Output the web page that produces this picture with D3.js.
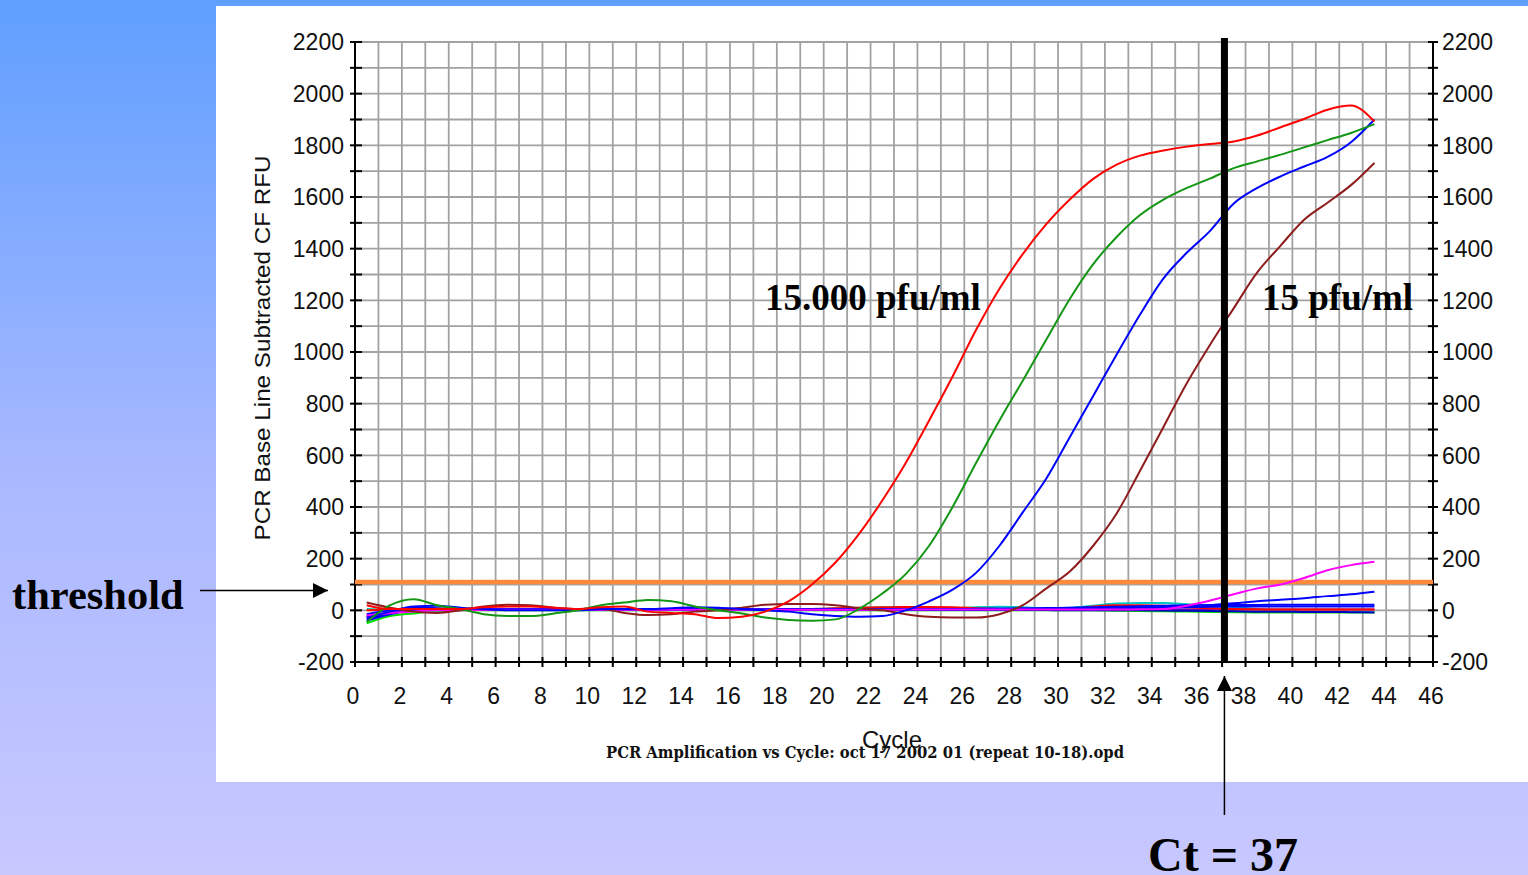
<!DOCTYPE html>
<html><head><meta charset="utf-8">
<script src="https://cdn.jsdelivr.net/npm/d3@7"></script>
<style>html,body{margin:0;padding:0;overflow:hidden;background:#fff}svg{display:block}</style>
</head><body>
<svg id="chart" width="1528" height="875"></svg>
<script>
// ---------- data ----------
const cycles = [1,2,3,4,5,6,7,8,9,10,11,12,13,14,15,16,17,18,19,20,21,22,23,24,25,26,27,28,29,30,31,32,33,34,35,36,37,38,39,40,41,42,43,44];
const xTickLabels = [0,2,4,6,8,10,12,14,16,18,20,22,24,26,28,30,32,34,36,38,40,42,44,46];
const yTickLabels = [-200,0,200,400,600,800,1000,1200,1400,1600,1800,2000,2200];
const thresholdRFU = 110;
const ctCycle = 37.1;

const red = [20,5,5,5,5,12,15,15,10,5, 12,15,-5,-10,-15,-30,-25,-5,35,100, 185,295,425,570,735,905,1085,1245,1380,1495, 1590,1670,1725,1760,1780,1795,1805,1815,1838,1870, 1902,1938,1954,1892];
const green = [-45,20,43,20,5,-15,-22,-22,-12,0, 20,30,40,35,15,0,-12,-28,-37,-40, -35,5,65,140,250,400,570,735,890,1048, 1205,1340,1445,1530,1590,1635,1672,1712,1738,1764, 1792,1820,1848,1882];
const blue = [-30,-5,15,18,10,5,0,0,0,0, 5,5,5,8,12,10,5,0,-5,-15, -22,-25,-22,0,35,80,145,250,380,510, 670,830,990,1145,1285,1385,1470,1575,1635,1680, 1718,1755,1812,1900];
const brown = [30,10,-5,-10,0,15,22,20,10,5, 5,-10,-18,-15,-5,0,10,22,25,25, 20,8,0,-15,-25,-28,-28,-15,20,85, 150,250,375,540,710,880,1030,1170,1308,1412, 1512,1578,1646,1732];
const magenta = [-20,-10,-5,0,0,2,2,2,2,2, 2,2,2,2,2,2,2,2,2,2, 2,2,2,3,3,3,3,3,3,3, 3,3,3,4,5,18,38,62,85,100, 125,155,175,188];
const blue2 = [-15,0,10,8,5,3,3,3,3,3, 3,3,3,3,3,3,3,3,3,3, 3,3,3,3,3,3,3,3,4,5, 5,6,8,10,12,15,20,27,35,41, 47,55,62,72];
const blue3 = [-40,-15,0,5,5,5,5,5,5,5, 5,5,5,5,5,5,5,5,5,5, 5,5,5,5,5,5,6,7,8,9, 10,12,14,16,18,20,20,21,21,22, 22,22,22,22];
const blue4 = [-25,-8,2,3,3,3,3,3,3,3, 3,3,3,3,3,3,3,3,3,3, 3,3,3,3,3,3,3,3,4,4, 5,6,7,8,10,12,14,15,15,15, 15,15,15,15];
const navy = [-35,-12,0,2,2,2,2,2,2,2, 2,2,2,2,2,2,2,2,2,2, 2,2,2,2,2,2,2,2,2,1, 0,0,0,0,-1,-2,-3,-4,-5,-5, -6,-6,-7,-8];
const cyan = [5,2,0,0,2,2,2,2,2,2, 2,2,2,2,2,2,2,2,3,5, 8,10,12,12,10,8,12,14,12,8, 10,18,26,28,28,24,20,12,5,0, -3,-4,-5,-5];
const lime = [-50,-22,-12,-3,0,0,0,0,0,0, 0,0,0,0,0,0,0,0,0,0, 0,0,0,0,0,0,0,0,0,0, 0,0,-2,-3,-4,-5,-6,-7,-8,-8, -8,-8,-8,-8];
const purple = [-25,-8,0,2,2,2,2,2,2,2, 2,2,2,2,2,2,2,2,2,2, 2,2,2,2,2,2,2,2,2,2, 2,2,3,3,3,3,3,3,3,3, 3,3,3,3];
const yellow = [0,4,8,8,4,2,2,2,2,2, 2,2,2,2,2,2,2,2,2,2, 2,2,2,2,2,2,2,2,2,2, 2,2,2,2,2,2,2,2,2,2, 2,2,2,2];
const red2 = [0,2,3,3,3,3,3,3,3,3, 3,3,3,3,3,3,3,3,3,5, 8,10,12,13,13,12,8,5,3,3, 5,15,20,20,18,12,8,5,4,3, 3,3,3,3];

const series = [
  {name:"lime", color:"#00e000", values:lime},
  {name:"cyan", color:"#00c4c4", values:cyan},
  {name:"yellow", color:"#e8c800", values:yellow},
  {name:"purple", color:"#7a00c8", values:purple},
  {name:"red2", color:"#ff0000", values:red2},
  {name:"navy", color:"#0000c0", values:navy},
  {name:"blue4", color:"#0000ff", values:blue4},
  {name:"blue3", color:"#0000ff", values:blue3},
  {name:"blue2", color:"#0000ff", values:blue2},
  {name:"magenta", color:"#ff00ff", values:magenta},
  {name:"brown", color:"#8e1c1c", values:brown},
  {name:"blue", color:"#0000ff", values:blue},
  {name:"green", color:"#139613", values:green},
  {name:"red", color:"#ff0000", values:red}
];

// ---------- layout ----------
const svg = d3.select("#chart");
const W = 1528, H = 875;
const x = d3.scaleLinear().domain([0,46]).range([355,1433]);
const y = d3.scaleLinear().domain([-200,2200]).range([662,42]);
const plotOffset = 0.5; // instrument plots each reading half a cycle early

const defs = svg.append("defs");
const grad = defs.append("linearGradient").attr("id","bg").attr("x1",0).attr("y1",0).attr("x2",0).attr("y2",1);
grad.append("stop").attr("offset","0%").attr("stop-color","#5f9fff");
grad.append("stop").attr("offset","55%").attr("stop-color","#aab9ff");
grad.append("stop").attr("offset","100%").attr("stop-color","#c8c8ff");
svg.append("rect").attr("width",W).attr("height",H).attr("fill","url(#bg)");
svg.append("rect").attr("x",216).attr("y",6).attr("width",W-216).attr("height",776).attr("fill","#fff");

const [x0,x1] = x.range();
const [yb,yt] = y.range();

// grid
const grid = svg.append("g").attr("stroke","#a2a2a2").attr("stroke-width",1.8);
grid.selectAll("line.v").data(d3.range(1,46)).join("line")
  .attr("x1",d=>x(d)).attr("x2",d=>x(d)).attr("y1",yt).attr("y2",yb);
grid.selectAll("line.h").data(d3.range(-100,2201,100)).join("line")
  .attr("x1",x0).attr("x2",x1).attr("y1",d=>y(d)).attr("y2",d=>y(d));

// axes
const axisG = svg.append("g").attr("stroke","#000").attr("stroke-width",2);
axisG.append("line").attr("x1",x0).attr("x2",x0).attr("y1",yt-1).attr("y2",yb);
axisG.append("line").attr("x1",x1).attr("x2",x1).attr("y1",yt-1).attr("y2",yb);
axisG.append("line").attr("x1",x0).attr("x2",x1).attr("y1",yb).attr("y2",yb);
const yMinor = d3.range(-200,2201,100);
axisG.selectAll("line.lt").data(yMinor).join("line").attr("x1",x0-5).attr("x2",x0+7).attr("y1",d=>y(d)).attr("y2",d=>y(d));
axisG.selectAll("line.rt").data(yMinor).join("line").attr("x1",x1-5).attr("x2",x1+5).attr("y1",d=>y(d)).attr("y2",d=>y(d));
axisG.selectAll("line.bt").data(d3.range(0,47)).join("line").attr("x1",d=>x(d)).attr("x2",d=>x(d)).attr("y1",yb-5).attr("y2",yb+5);

const lab = svg.append("g").attr("font-family","Liberation Sans, Arial, sans-serif").attr("font-size",23).attr("fill","#111");
lab.selectAll("text.yl").data(yTickLabels).join("text").attr("x",x0-11).attr("y",d=>y(d)).attr("dy","0.36em").attr("text-anchor","end").text(d=>String(d));
lab.selectAll("text.yr").data(yTickLabels).join("text").attr("x",x1+9).attr("y",d=>y(d)).attr("dy","0.36em").attr("text-anchor","start").text(d=>String(d));
lab.selectAll("text.xl").data(xTickLabels).join("text").attr("x",d=>x(d)-2).attr("y",yb+42).attr("text-anchor","middle").text(d=>String(d));

lab.append("text").attr("transform","translate(270,348) rotate(-90)").attr("text-anchor","middle")
  .attr("font-size",22).attr("textLength",385).attr("lengthAdjust","spacingAndGlyphs").text("PCR Base Line Subtracted CF RFU");
lab.append("text").attr("x",892).attr("y",748).attr("text-anchor","middle").attr("font-size",24).text("Cycle");
svg.append("text").attr("x",865).attr("y",758).attr("text-anchor","middle").attr("font-family","DejaVu Serif, serif")
  .attr("font-size",16).attr("font-weight","bold").attr("fill","#111").attr("textLength",518).attr("lengthAdjust","spacingAndGlyphs")
  .text("PCR Amplification vs Cycle: oct 17 2002 01 (repeat 10-18).opd");

// threshold
svg.append("line").attr("x1",x0).attr("x2",x1).attr("y1",y(thresholdRFU)).attr("y2",y(thresholdRFU))
  .attr("stroke","#ff8a3d").attr("stroke-width",4.5);

// curves
const line = d3.line().x((d,i)=>x(cycles[i]-plotOffset)).y(d=>y(d)).curve(d3.curveMonotoneX);
svg.append("g").attr("fill","none").attr("stroke-width",2)
  .selectAll("path").data(series).join("path")
  .attr("stroke",d=>d.color).attr("d",d=>line(d.values));

// Ct line
svg.append("line").attr("x1",x(ctCycle)).attr("x2",x(ctCycle)).attr("y1",yt-4).attr("y2",yb)
  .attr("stroke","#000").attr("stroke-width",7);

// annotations
const ann = svg.append("g").attr("font-family","Liberation Serif, Times New Roman, serif").attr("font-weight","bold").attr("fill","#000");
ann.append("text").attr("x",765).attr("y",310).attr("font-size",37).text("15.000 pfu/ml");
ann.append("text").attr("x",1262).attr("y",310).attr("font-size",37).text("15 pfu/ml");
ann.append("text").attr("x",12).attr("y",609).attr("font-size",42.5).text("threshold");
ann.append("text").attr("x",1148).attr("y",871).attr("font-size",48).text("Ct = 37");

defs.append("marker").attr("id","arr").attr("viewBox","0 0 10 10").attr("refX",10).attr("refY",5)
  .attr("markerWidth",15).attr("markerHeight",15).attr("markerUnits","userSpaceOnUse").attr("orient","auto")
  .append("path").attr("d","M0,0L10,5L0,10Z").attr("fill","#000");
svg.append("line").attr("x1",200).attr("x2",328).attr("y1",590.5).attr("y2",590.5).attr("stroke","#000").attr("stroke-width",1.5).attr("marker-end","url(#arr)");
svg.append("line").attr("x1",x(ctCycle)).attr("x2",x(ctCycle)).attr("y1",815).attr("y2",676).attr("stroke","#000").attr("stroke-width",1.5).attr("marker-end","url(#arr)");
</script>
</body></html>
